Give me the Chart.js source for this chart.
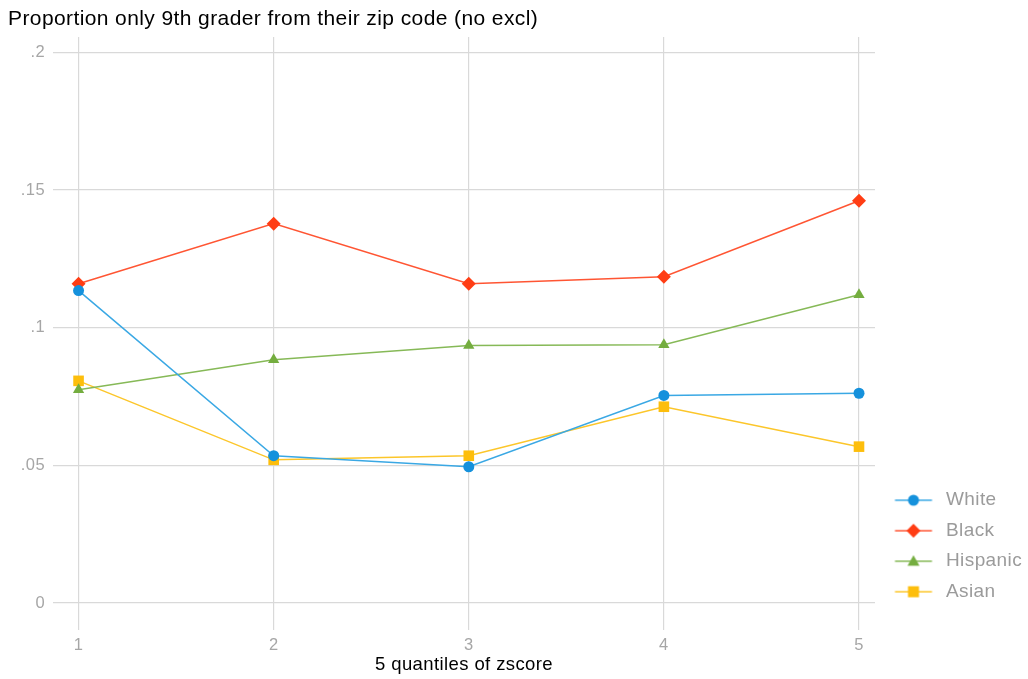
<!DOCTYPE html>
<html>
<head>
<meta charset="utf-8">
<script src="https://cdn.jsdelivr.net/npm/chart.js@4.4.0/dist/chart.umd.min.js"></script>
<style>
  html, body { margin: 0; padding: 0; background: #fff; }
  #wrap { width: 1028px; height: 679px; }
</style>
</head>
<body>
<div id="wrap"><canvas id="chart" width="1028" height="679"></canvas></div>
<script>
const quantiles = [1, 2, 3, 4, 5];
const white = [0.1135, 0.0535, 0.0495, 0.0754, 0.0762];
const black = [0.116, 0.1378, 0.116, 0.1185, 0.1461];
const hispanic = [0.0775, 0.0884, 0.0935, 0.0938, 0.112];
const asian = [0.0807, 0.052, 0.0535, 0.0713, 0.0568];
const yTicks = [0, 0.05, 0.1, 0.15, 0.2];

const FONT = "'Liberation Sans', Arial, sans-serif";

const series = [
  { label: "White", values: white, color: "#1591dc", line: "#3aa8e4", style: "circle", r: 5.5 },
  { label: "Black", values: black, color: "#ff3d14", line: "#ff5533", style: "rectRot", r: 7 },
  { label: "Hispanic", values: hispanic, color: "#74ad3f", line: "#86b957", style: "triangle", r: 6.5 },
  { label: "Asian", values: asian, color: "#fdbe0c", line: "#fcc62a", style: "rect", r: 7.5 }
];

// legend swatch: short line with the marker in the middle
function swatch(s) {
  const c = document.createElement("canvas");
  c.width = 50; c.height = 16;
  const g = c.getContext("2d");
  g.strokeStyle = s.line; g.fillStyle = s.color; g.lineWidth = 1.5;
  g.beginPath(); g.moveTo(8.5, 8); g.lineTo(45.5, 8); g.stroke();
  const cx = 27, cy = 8;
  g.beginPath();
  if (s.style === "circle") g.arc(cx, cy, 5.5, 0, Math.PI * 2);
  else if (s.style === "rectRot") { g.moveTo(cx, cy - 7); g.lineTo(cx + 7, cy); g.lineTo(cx, cy + 7); g.lineTo(cx - 7, cy); g.closePath(); }
  else if (s.style === "triangle") { g.moveTo(cx, cy - 6); g.lineTo(cx + 6, cy + 4.5); g.lineTo(cx - 6, cy + 4.5); g.closePath(); }
  else g.rect(cx - 5.5, cy - 5.5, 11, 11);
  g.fill();
  return c;
}

const datasets = series.map(s => ({
  label: s.label,
  data: quantiles.map((q, i) => ({ x: q, y: s.values[i] })),
  borderColor: s.line,
  backgroundColor: s.color,
  borderWidth: 1.5,
  pointStyle: s.style,
  pointRadius: s.r,
  pointBorderWidth: 0,
  pointBackgroundColor: s.color,
  tension: 0
}));

// slightly spaced lettering like the original
const spacing = {
  id: "spacing",
  beforeUpdate: c => { c.ctx.letterSpacing = "0.4px"; },
  beforeDraw: c => { c.ctx.letterSpacing = "0.4px"; }
};

const ctx = document.getElementById("chart").getContext("2d");
const chart = new Chart(ctx, {
  type: "line",
  data: { datasets },
  plugins: [spacing],
  options: {
    responsive: false,
    animation: false,
    layout: { padding: { left: 8, right: 0, top: 0, bottom: 0 } },
    plugins: {
      title: {
        display: true,
        text: "Proportion only 9th grader from their zip code (no excl)",
        align: "start",
        color: "#000",
        font: { family: FONT, size: 21, weight: "normal" },
        padding: { top: 7, bottom: 4.8 }
      },
      legend: {
        position: "right",
        align: "start",
        maxWidth: 153,
        title: { display: true, text: " ", padding: { top: 0, bottom: 460 }, font: { size: 16 } },
        labels: {
          usePointStyle: true,
          pointStyleWidth: 50,
          padding: 11.5,
          color: "#9b9b9b",
          font: { family: FONT, size: 19 },
          generateLabels: () => series.map((s, i) => ({
            text: s.label,
            pointStyle: swatch(s),
            fillStyle: s.color,
            strokeStyle: s.color,
            lineWidth: 0,
            fontColor: "#9b9b9b",
            hidden: false,
            datasetIndex: i
          }))
        }
      },
      tooltip: { enabled: false }
    },
    scales: {
      x: {
        type: "linear",
        min: 0.869,
        max: 5.082,
        afterBuildTicks: s => { s.ticks = quantiles.map(v => ({ value: v })); },
        afterFit: s => { s.height = 49; },
        border: { display: false },
        grid: { color: "#d9d9d9", lineWidth: 1.2, drawTicks: false },
        ticks: { color: "#a6a6a6", padding: 6, font: { family: FONT, size: 16.5 } },
        title: {
          display: true,
          text: "5 quantiles of zscore",
          color: "#000",
          font: { family: FONT, size: 18.5 },
          padding: { top: 2, bottom: 2.5 }
        }
      },
      y: {
        min: -0.0098,
        max: 0.2056,
        afterBuildTicks: s => { s.ticks = yTicks.map(v => ({ value: v })); },
        afterFit: s => { s.width = 45; },
        border: { display: false },
        grid: { color: "#d9d9d9", lineWidth: 1.2, drawTicks: false },
        ticks: {
          color: "#a6a6a6",
          padding: 8,
          font: { family: FONT, size: 16.5 },
          callback: v => v === 0 ? "0" : String(+v.toFixed(2)).replace(/^0/, "")
        }
      }
    }
  }
});
</script>
</body>
</html>
